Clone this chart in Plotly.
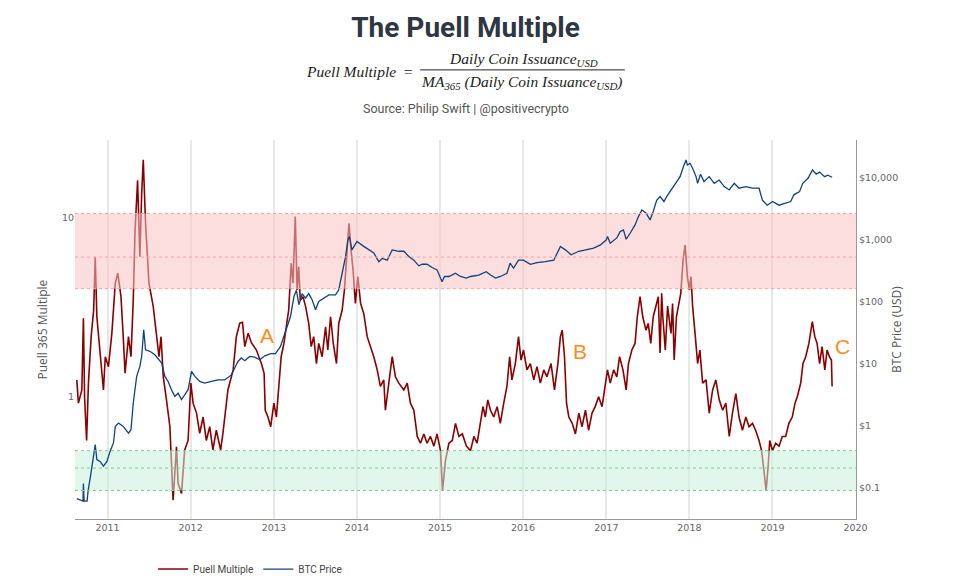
import plotly.graph_objects as go

# Puell Multiple
puell_dates = [
    "2010-08-19", "2010-08-26", "2010-09-10", "2010-09-17", "2010-09-22", "2010-10-01", "2010-10-09",
    "2010-10-21", "2010-11-01", "2010-11-08", "2010-11-15", "2010-11-30", "2010-12-14", "2010-12-22",
    "2011-01-05", "2011-01-20", "2011-02-04", "2011-02-15", "2011-03-01", "2011-03-11", "2011-03-19",
    "2011-04-03", "2011-04-14", "2011-04-24", "2011-05-02", "2011-05-13", "2011-05-23", "2011-05-31",
    "2011-06-07", "2011-06-17", "2011-07-02", "2011-07-21", "2011-08-05", "2011-08-15", "2011-08-24",
    "2011-09-03", "2011-09-17", "2011-10-02", "2011-10-16", "2011-10-31", "2011-11-07", "2011-11-22",
    "2011-12-06", "2011-12-21", "2012-01-02", "2012-01-12", "2012-01-27", "2012-02-10", "2012-02-25",
    "2012-03-10", "2012-03-25", "2012-04-08", "2012-04-23", "2012-05-12", "2012-05-22", "2012-06-13",
    "2012-07-06", "2012-07-20", "2012-08-04", "2012-08-16", "2012-08-26", "2012-09-10", "2012-09-24",
    "2012-10-16", "2012-11-07", "2012-11-19", "2012-11-24", "2012-12-06", "2012-12-18",
    "2013-01-01", "2013-01-12", "2013-01-23", "2013-02-02", "2013-02-14", "2013-02-25", "2013-03-07",
    "2013-03-18", "2013-03-26", "2013-04-05", "2013-04-13", "2013-04-20", "2013-04-27", "2013-05-09",
    "2013-05-20", "2013-06-03", "2013-06-14", "2013-06-25", "2013-07-07", "2013-07-17", "2013-08-01",
    "2013-08-16", "2013-08-26", "2013-09-07", "2013-09-19", "2013-10-03", "2013-10-13", "2013-10-28",
    "2013-11-07", "2013-11-19", "2013-11-27", "2013-12-06", "2013-12-15", "2013-12-25",
    "2014-01-05", "2014-01-17", "2014-01-31", "2014-02-15", "2014-03-01", "2014-03-16", "2014-03-31",
    "2014-04-14", "2014-04-29", "2014-05-06", "2014-05-21", "2014-06-05", "2014-06-19", "2014-07-04",
    "2014-07-26", "2014-08-10", "2014-08-24", "2014-09-08", "2014-09-23", "2014-10-07", "2014-10-22",
    "2014-11-05", "2014-11-20", "2014-12-05", "2014-12-19",
    "2015-01-03", "2015-01-12", "2015-01-25", "2015-02-09", "2015-02-24", "2015-03-10", "2015-03-25",
    "2015-04-09", "2015-04-27", "2015-05-15", "2015-05-30", "2015-06-13", "2015-06-28", "2015-07-09",
    "2015-07-19", "2015-07-30", "2015-08-11", "2015-08-25", "2015-09-09", "2015-09-23", "2015-10-08",
    "2015-10-22", "2015-11-03", "2015-11-13", "2015-11-28", "2015-12-12", "2015-12-23",
    "2016-01-03", "2016-01-18", "2016-02-02", "2016-02-17", "2016-03-02", "2016-03-17", "2016-04-01",
    "2016-04-15", "2016-05-03", "2016-05-18", "2016-06-02", "2016-06-13", "2016-06-21", "2016-07-01",
    "2016-07-10", "2016-07-20", "2016-08-04", "2016-08-18", "2016-09-02", "2016-09-16", "2016-10-01",
    "2016-10-15", "2016-10-30", "2016-11-13", "2016-11-28", "2016-12-13", "2016-12-27",
    "2017-01-06", "2017-01-18", "2017-02-02", "2017-02-16", "2017-02-28", "2017-03-15", "2017-03-29",
    "2017-04-08", "2017-04-23", "2017-05-07", "2017-05-17", "2017-05-29", "2017-06-10", "2017-06-24",
    "2017-07-04", "2017-07-15", "2017-07-26", "2017-08-07", "2017-08-17", "2017-08-25", "2017-09-01",
    "2017-09-06", "2017-09-17", "2017-09-27", "2017-10-12", "2017-10-19", "2017-10-26", "2017-11-05",
    "2017-11-14", "2017-11-24", "2017-12-04", "2017-12-13", "2017-12-23",
    "2018-01-01", "2018-01-08", "2018-01-15", "2018-01-27", "2018-02-06", "2018-02-16", "2018-02-28",
    "2018-03-15", "2018-03-29", "2018-04-13", "2018-04-27", "2018-05-12", "2018-05-27", "2018-06-10",
    "2018-06-25", "2018-07-09", "2018-07-24", "2018-08-07", "2018-08-22", "2018-09-06", "2018-09-20",
    "2018-10-05", "2018-10-19", "2018-11-03", "2018-11-14", "2018-11-24", "2018-12-04", "2018-12-13",
    "2018-12-20", "2019-01-01", "2019-01-15", "2019-01-30", "2019-02-13", "2019-02-28", "2019-03-14",
    "2019-03-29", "2019-04-10", "2019-04-20", "2019-05-05", "2019-05-15", "2019-05-27", "2019-06-10",
    "2019-06-25", "2019-07-06", "2019-07-16", "2019-07-27", "2019-08-07", "2019-08-19", "2019-08-29",
    "2019-09-08", "2019-09-17", "2019-09-20",
]
puell_values = [
    1.24, 0.92, 1.09, 2.74, 1.0, 0.57, 1.19,
    2.16, 3.04, 6.03, 2.79, 1.67, 1.09, 1.67,
    1.47, 2.26, 4.29, 4.88, 3.61, 2.16, 1.35,
    2.16, 1.67, 3.46, 8.5, 16.1, 6.03, 13.6,
    20.9, 9.26, 4.29, 3.17, 2.07, 1.67, 2.16,
    1.29, 0.96, 0.68, 0.265, 0.526, 0.329, 0.289,
    0.505, 0.57, 1.19, 0.92, 0.81, 0.625, 0.77,
    0.57, 0.68, 0.505, 0.65, 0.505, 0.625, 1.09,
    1.41, 2.16, 2.57, 2.6, 1.9, 2.26, 2.0,
    1.82, 1.53, 1.35, 0.84, 0.77, 0.68,
    0.92, 0.77, 1.19, 1.67, 1.98, 2.56, 3.04,
    5.54, 4.29, 10.1, 3.94, 5.3, 3.45, 3.61,
    3.2, 2.56, 1.9, 2.16, 1.53, 1.98, 1.67,
    2.45, 1.82, 2.79, 1.98, 1.53, 2.56, 3.04,
    3.94, 6.58, 9.26, 6.58, 5.08, 3.31,
    4.67, 3.31, 2.9, 2.16, 1.9, 1.67, 1.41,
    1.14, 1.24, 0.84, 1.19, 1.67, 1.29, 1.19,
    1.09, 1.19, 0.92, 0.84, 0.6, 0.55, 0.62,
    0.55, 0.6, 0.53, 0.62,
    0.5, 0.30, 0.44, 0.55, 0.57, 0.71, 0.6,
    0.62, 0.53, 0.5, 0.6, 0.55, 0.74, 0.88,
    0.77, 0.96, 0.84, 0.77, 0.88, 0.71, 0.92,
    1.14, 1.67, 1.24, 1.53, 2.16, 1.6,
    1.82, 1.41, 1.53, 1.24, 1.47, 1.19, 1.41,
    1.29, 1.53, 1.09, 1.53, 2.16, 2.35, 1.67,
    0.92, 0.77, 0.71, 0.62, 0.81, 0.68, 0.84,
    0.65, 0.81, 0.88, 1.0, 0.88, 1.19,
    1.41, 1.19, 1.41, 1.29, 1.67, 1.41, 1.09,
    1.53, 1.82, 1.98, 2.79, 3.61, 2.79, 2.35,
    2.56, 1.98, 2.79, 3.2, 3.61, 1.75, 3.77,
    2.79, 1.82, 3.2, 2.25, 3.31, 1.6, 2.79,
    3.2, 3.77, 5.75, 7.0, 4.67,
    3.94, 4.67, 3.2, 2.16, 1.53, 1.82, 1.19,
    1.24, 0.81, 1.09, 1.24, 0.96, 0.84, 0.92,
    0.6, 0.81, 1.04, 0.77, 0.65, 0.77, 0.68,
    0.71, 0.65, 0.57, 0.5, 0.39, 0.30, 0.41,
    0.57, 0.5, 0.55, 0.53, 0.6, 0.6, 0.71,
    0.77, 0.92, 1.0, 1.19, 1.53, 1.67, 1.98,
    2.62, 2.16, 1.98, 1.53, 1.9, 1.41, 1.82,
    1.67, 1.6, 1.14,
]

# BTC price in USD
btc_dates = [
    "2010-08-19", "2010-09-10", "2010-09-15", "2010-09-17", "2010-09-20", "2010-10-03", "2010-10-08",
    "2010-10-18", "2010-10-28", "2010-11-08", "2010-11-15", "2010-11-30", "2010-12-14", "2010-12-29",
    "2011-01-12", "2011-01-27", "2011-02-04", "2011-02-18", "2011-03-11", "2011-04-03", "2011-04-14",
    "2011-04-24", "2011-05-09", "2011-05-23", "2011-05-31", "2011-06-09", "2011-06-17", "2011-07-06",
    "2011-07-28", "2011-08-15", "2011-08-27", "2011-09-10", "2011-09-24", "2011-10-09", "2011-10-24",
    "2011-11-07", "2011-11-22", "2011-12-06", "2011-12-21", "2012-01-05", "2012-01-20", "2012-02-10",
    "2012-03-03", "2012-04-01", "2012-05-01", "2012-05-30", "2012-06-28", "2012-07-13", "2012-07-27",
    "2012-08-11", "2012-08-26", "2012-09-17", "2012-10-09", "2012-10-31", "2012-11-22", "2012-12-18",
    "2013-01-08", "2013-01-30", "2013-02-21", "2013-03-15", "2013-03-30", "2013-04-10", "2013-04-21",
    "2013-05-05", "2013-05-20", "2013-06-03", "2013-06-18", "2013-07-03", "2013-07-17", "2013-08-09",
    "2013-08-31", "2013-09-29", "2013-10-13", "2013-10-28", "2013-11-12", "2013-11-22", "2013-11-29",
    "2013-12-10", "2013-12-21", "2014-01-01", "2014-01-31", "2014-02-22", "2014-03-16", "2014-04-07",
    "2014-04-22", "2014-05-14", "2014-06-05", "2014-07-04", "2014-07-26", "2014-08-17", "2014-09-08",
    "2014-09-30", "2014-10-15", "2014-11-05", "2014-11-27", "2014-12-19", "2015-01-10", "2015-01-21",
    "2015-02-09", "2015-03-10", "2015-04-01", "2015-04-27", "2015-05-15", "2015-06-20", "2015-07-23",
    "2015-08-11", "2015-09-02", "2015-09-23", "2015-10-22", "2015-11-05", "2015-11-20", "2015-12-12",
    "2016-01-03", "2016-02-02", "2016-03-02", "2016-04-07", "2016-05-15", "2016-06-06", "2016-06-13",
    "2016-07-05", "2016-07-30", "2016-09-02", "2016-10-08", "2016-11-06", "2016-12-06", "2017-01-01",
    "2017-01-06", "2017-01-18", "2017-02-16", "2017-03-03", "2017-03-17", "2017-03-29", "2017-04-16",
    "2017-05-07", "2017-05-22", "2017-06-06", "2017-06-24", "2017-07-12", "2017-07-26", "2017-08-10",
    "2017-08-25", "2017-08-30", "2017-09-11", "2017-09-23", "2017-10-12", "2017-11-03", "2017-11-21",
    "2017-12-05", "2017-12-17", "2017-12-23", "2018-01-04", "2018-01-15", "2018-01-30", "2018-02-06",
    "2018-02-19", "2018-03-06", "2018-03-29", "2018-04-20", "2018-05-12", "2018-06-03", "2018-06-25",
    "2018-07-17", "2018-08-07", "2018-09-06", "2018-10-05", "2018-11-03", "2018-11-18", "2018-12-09",
    "2019-01-01", "2019-01-30", "2019-02-28", "2019-03-22", "2019-04-05", "2019-04-30", "2019-05-14",
    "2019-06-06", "2019-06-26", "2019-07-12", "2019-07-27", "2019-08-18", "2019-09-01", "2019-09-20",
]
btc_values = [
    0.066, 0.06, 0.06, 0.115, 0.06, 0.06, 0.09,
    0.15, 0.25, 0.49, 0.28, 0.26, 0.22, 0.26,
    0.38, 0.52, 0.96, 1.09, 0.96, 0.75, 0.85,
    2.29, 6.15, 8.9, 12.9, 34.7, 16.5, 15.6,
    13.7, 11.4, 10.1, 6.15, 5.1, 3.75, 2.93,
    3.3, 2.6, 3.1, 3.75, 7.4, 6.15, 5.1,
    4.8, 5.1, 5.4, 5.4, 6.5, 8.4, 10.7,
    12.2, 11.0, 12.9, 12.6, 11.4, 13.2, 14.3,
    14.3, 18.7, 32.6, 56.9, 119, 150, 88,
    133, 112, 133, 106, 73, 99, 112,
    127, 127, 153, 283, 526, 977, 1105,
    674, 810, 920, 767, 674, 600, 435,
    490, 460, 674, 640, 640, 526, 460,
    373, 395, 395, 350, 321, 206, 251,
    251, 283, 251, 237, 251, 265, 300,
    265, 237, 251, 283, 411, 343, 460,
    460, 395, 420, 435, 460, 674, 767,
    674, 562, 640, 674, 718, 810, 980,
    1105, 863, 1050, 1330, 1415, 1000, 1260,
    1700, 2320, 2970, 2650, 2050, 2800, 4240,
    4870, 4600, 4060, 4870, 6240, 7980, 10230,
    14600, 18970, 15700, 16760, 14000, 10230, 7980,
    11200, 8500, 10230, 7980, 9000, 7050, 6240,
    7980, 6650, 7050, 6650, 6650, 4240, 3540,
    4060, 3540, 3800, 4060, 5200, 5850, 7980,
    9600, 13090, 11200, 12100, 10230, 10800, 10000,
]

# zone thresholds on the Puell axis: low, middle, high
red_zone = [4.0, 6.0, 10.5]
green_zone = [0.3, 0.4, 0.5]

x_start, x_end = "2010-08-11", "2020-01-03"
btc_ticks = [0.1, 1, 10, 100, 1000, 10000]
btc_labels = ["$0.1", "$1", "$10", "$100", "$1,000", "$10,000"]

fig = go.Figure()

fig.add_trace(go.Scatter(x=puell_dates, y=puell_values, name="Puell Multiple", mode="lines",
                         line=dict(color="#8b0000", width=1.6)))

# shaded zones drawn over the Puell line (which gets tinted), but under BTC
for zone, fill in [(red_zone, "rgba(250,195,195,0.55)"), (green_zone, "rgba(200,240,220,0.55)")]:
    fig.add_trace(go.Scatter(x=[x_start, x_end, x_end, x_start],
                             y=[zone[0], zone[0], zone[2], zone[2]],
                             fill="toself", fillcolor=fill, mode="none",
                             showlegend=False, hoverinfo="skip"))

fig.add_trace(go.Scatter(x=btc_dates, y=btc_values, name="BTC Price", mode="lines", yaxis="y2",
                         line=dict(color="#10427d", width=1.3)))

shapes = []
for zone, col in [(red_zone, "#f3a3a3"), (green_zone, "#7ccf93")]:
    for level in zone:
        shapes.append(dict(type="line", xref="paper", yref="y", x0=0, x1=1, y0=level, y1=level,
                           line=dict(color=col, width=1, dash="3px,3px")))
# fraction bar of the formula
shapes.append(dict(type="line", xref="paper", yref="paper", x0=0.442, x1=0.704, y0=1.185, y1=1.185,
                   line=dict(color="#222", width=1)))

serif = dict(family="Liberation Serif, DejaVu Serif, serif", size=15.5, color="#222")
annotations = [
    dict(text="<i>Puell Multiple</i>  =", x=0.435, y=1.182, xanchor="right", font=serif),
    dict(text="<i>Daily Coin Issuance</i><sub><i>USD</i></sub>", x=0.574, y=1.212, font=serif),
    dict(text="<i>MA</i><sub><i>365</i></sub><i> (Daily Coin Issuance</i><sub><i>USD</i></sub><i>)</i>",
         x=0.572, y=1.152, font=serif),
    dict(text="Source: Philip Swift | @positivecrypto", x=0.5, y=1.082,
         font=dict(family="Roboto, sans-serif", size=12.5, color="#555")),
    dict(text="Puell 365 Multiple", x=-0.041, y=0.5, textangle=-90,
         font=dict(family="Open Sans, sans-serif", size=12, color="#555")),
    dict(text="BTC Price (USD)", x=1.052, y=0.5, textangle=-90,
         font=dict(family="Open Sans, sans-serif", size=12, color="#555")),
]
for label, ax, ay in [("A", 0.246, 0.485), ("B", 0.646, 0.443), ("C", 0.983, 0.456)]:
    annotations.append(dict(text=label, x=ax, y=ay,
                            font=dict(family="Liberation Sans, Arial, sans-serif", size=21, color="#ff8c1a")))
for a in annotations:
    a.update(xref="paper", yref="paper", showarrow=False)
    a.setdefault("xanchor", "center")
    a.setdefault("yanchor", "middle")

tick_font = dict(family="DejaVu Sans, Verdana, sans-serif", size=9.5, color="#666")

# the page body adds an 8px offset, so margins are shifted by that amount
fig.update_layout(
    width=959, height=579,
    margin=dict(l=67, r=111, t=132, b=68, autoexpand=False),
    paper_bgcolor="white", plot_bgcolor="white",
    title=dict(text="<b>The Puell Multiple</b>", x=0.5, xref="paper", y=0.967, yref="container",
               yanchor="middle", font=dict(family="Roboto, sans-serif", size=28, color="#2d3642")),
    xaxis=dict(type="date", range=[x_start, x_end], showgrid=True, gridcolor="#e8e8e8", gridwidth=1.5,
               dtick="M12", tickformat="%Y", showline=True, linecolor="#999", linewidth=1,
               zeroline=False, tickfont=tick_font),
    yaxis=dict(type="log", range=[-0.682, 1.431], tickvals=[1, 10], ticktext=["1", "10"],
               showgrid=False, zeroline=False, showline=False, tickfont=tick_font),
    yaxis2=dict(type="log", overlaying="y", side="right", range=[-1.51, 4.60],
                tickvals=btc_ticks, ticktext=btc_labels, showgrid=False, zeroline=False,
                showline=True, linecolor="#999", linewidth=1, tickfont=tick_font),
    legend=dict(orientation="h", x=0.1, xanchor="left", y=-0.132, yanchor="middle",
                font=dict(family="Liberation Sans Narrow, Arial Narrow, Roboto, sans-serif", size=10, color="#444")),
    shapes=shapes,
    annotations=annotations,
)

fig.write_html("out.html")
